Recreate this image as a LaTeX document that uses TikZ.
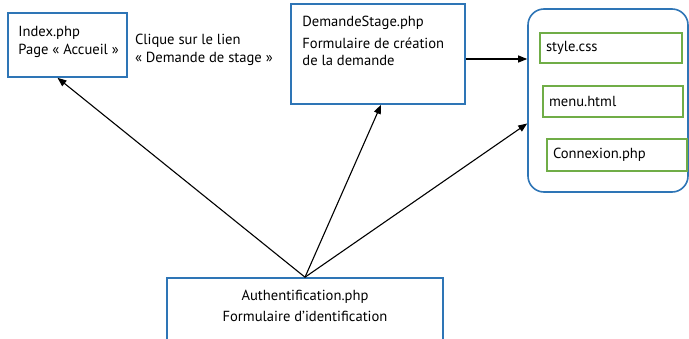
\documentclass[tikz,border=0pt]{standalone}
\usepackage{fontspec}
\setmainfont{PT Sans}
\usetikzlibrary{arrows.meta, positioning}
\definecolor{pageblue}{RGB}{46,117,182}
\definecolor{filegreen}{RGB}{112,173,71}

\begin{document}
\begin{tikzpicture}[
    x=1pt, y=-1pt,
    font=\fontsize{14.6}{17.5}\selectfont,
    page/.style={rectangle, draw=pageblue, line width=1.6pt, inner sep=0pt},
    include/.style={rectangle, draw=filegreen, line width=1.4pt, align=left, inner xsep=6pt, inner ysep=0pt, text width=128pt},
    txt/.style={align=left, inner sep=0pt},
    arrow/.style={-{Triangle[length=9pt, width=7pt]}, line width=1.1pt}
]
    \useasboundingbox (0,0) rectangle (689,338);
    \clip (0,0) rectangle (689,338);

    % pages
    \node[page, minimum width=119pt, minimum height=64pt] (index) at (67.5,45) {};
    \node[page, minimum width=174pt, minimum height=100pt] (demande) at (378,54) {};
    \node[page, minimum width=276pt, minimum height=68pt] (auth) at (305,312) {};
    \node[page, rounded corners=16pt, minimum width=160pt, minimum height=183pt] (shared) at (608,100.5) {};

    % texts
    \node[txt, below right=14pt and 11pt of index.north west] (indextxt) {Index.php\\Page « Accueil »};
    \node[txt, below right=13pt and 12pt of demande.north west] (demandetxt) {DemandeStage.php\\[4pt]Formulaire de création\\de la demande};
    \node[txt, align=center, below=13pt of auth.north] (authtxt) {Authentification.php\\[3pt]Formulaire d’identification};
    \node[txt, below right=22pt and 7pt of index.north east] (clique) {Clique sur le lien\\« Demande de stage »};

    % included files
    \node[include, minimum height=30pt, text width=130pt] (css) at (611,48) {style.css};
    \node[include, minimum height=31pt] (menu) at (613,101.5) {menu.html};
    \node[include, minimum height=32pt] (connexion) at (617,155) {Connexion.php};

    \draw[arrow] (auth.north) -- ([xshift=-10pt]index.south);
    \draw[arrow] (auth.north) -- ([xshift=3pt]demande.south);
    \draw[arrow] (auth.north) -- ([yshift=-23pt]shared.west);
    \draw[arrow] ([yshift=-5pt]demande.east) -- ([yshift=-5pt]demande.east -| shared.west);
\end{tikzpicture}
\end{document}
